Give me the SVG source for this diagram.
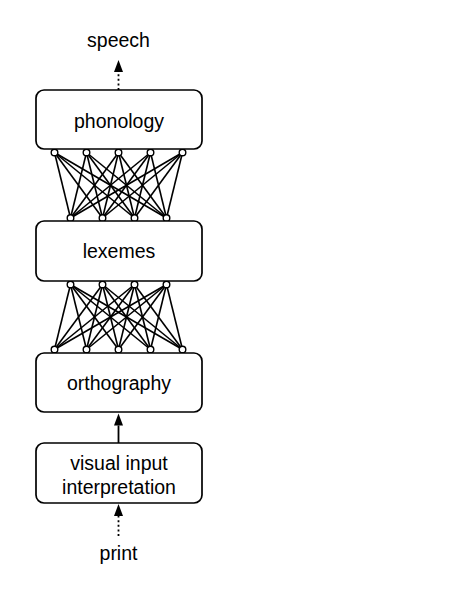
<svg xmlns="http://www.w3.org/2000/svg" width="474" height="602" viewBox="0 0 474 602">
<style>
.box{fill:#fff;stroke:#000;stroke-width:1.7}
.lbl{font-family:"Liberation Sans",Arial,Helvetica,sans-serif;font-size:19.5px;fill:#000;text-anchor:middle}
.ln{stroke:#000;stroke-width:1.6;fill:none}
.dot{stroke:#000;stroke-width:1.8;fill:none;stroke-dasharray:2 2.6}
.arr{stroke:#000;stroke-width:1.8;fill:none}
.nd{fill:#fff;stroke:#000;stroke-width:1.4}
</style>
<defs>
<marker id="ah" markerUnits="userSpaceOnUse" markerWidth="12" markerHeight="9" refX="0" refY="4.5" orient="auto" overflow="visible">
<path d="M0,0 L12,4.5 L0,9 Z" fill="#000"/>
</marker>
</defs>
<rect width="474" height="602" fill="#fff"/>
<g id="connectors">
<line class="dot" x1="118.5" y1="90" x2="118.5" y2="72" marker-end="url(#ah)"/>
<line class="arr" x1="118.5" y1="443" x2="118.5" y2="425.5" marker-end="url(#ah)"/>
<line class="dot" x1="118.5" y1="536" x2="118.5" y2="516" marker-end="url(#ah)"/>
<g id="net1" class="ln">
<line x1="54.5" y1="152.5" x2="70.5" y2="218"/><line x1="54.5" y1="152.5" x2="102.5" y2="218"/><line x1="54.5" y1="152.5" x2="134.5" y2="218"/><line x1="54.5" y1="152.5" x2="166.5" y2="218"/>
<line x1="86.5" y1="152.5" x2="70.5" y2="218"/><line x1="86.5" y1="152.5" x2="102.5" y2="218"/><line x1="86.5" y1="152.5" x2="134.5" y2="218"/><line x1="86.5" y1="152.5" x2="166.5" y2="218"/>
<line x1="118.5" y1="152.5" x2="70.5" y2="218"/><line x1="118.5" y1="152.5" x2="102.5" y2="218"/><line x1="118.5" y1="152.5" x2="134.5" y2="218"/><line x1="118.5" y1="152.5" x2="166.5" y2="218"/>
<line x1="150.5" y1="152.5" x2="70.5" y2="218"/><line x1="150.5" y1="152.5" x2="102.5" y2="218"/><line x1="150.5" y1="152.5" x2="134.5" y2="218"/><line x1="150.5" y1="152.5" x2="166.5" y2="218"/>
<line x1="182.5" y1="152.5" x2="70.5" y2="218"/><line x1="182.5" y1="152.5" x2="102.5" y2="218"/><line x1="182.5" y1="152.5" x2="134.5" y2="218"/><line x1="182.5" y1="152.5" x2="166.5" y2="218"/>
</g>
<g id="net2" class="ln">
<line x1="70.5" y1="284.5" x2="54.5" y2="349.5"/><line x1="70.5" y1="284.5" x2="86.5" y2="349.5"/><line x1="70.5" y1="284.5" x2="118.5" y2="349.5"/><line x1="70.5" y1="284.5" x2="150.5" y2="349.5"/><line x1="70.5" y1="284.5" x2="182.5" y2="349.5"/>
<line x1="102.5" y1="284.5" x2="54.5" y2="349.5"/><line x1="102.5" y1="284.5" x2="86.5" y2="349.5"/><line x1="102.5" y1="284.5" x2="118.5" y2="349.5"/><line x1="102.5" y1="284.5" x2="150.5" y2="349.5"/><line x1="102.5" y1="284.5" x2="182.5" y2="349.5"/>
<line x1="134.5" y1="284.5" x2="54.5" y2="349.5"/><line x1="134.5" y1="284.5" x2="86.5" y2="349.5"/><line x1="134.5" y1="284.5" x2="118.5" y2="349.5"/><line x1="134.5" y1="284.5" x2="150.5" y2="349.5"/><line x1="134.5" y1="284.5" x2="182.5" y2="349.5"/>
<line x1="166.5" y1="284.5" x2="54.5" y2="349.5"/><line x1="166.5" y1="284.5" x2="86.5" y2="349.5"/><line x1="166.5" y1="284.5" x2="118.5" y2="349.5"/><line x1="166.5" y1="284.5" x2="150.5" y2="349.5"/><line x1="166.5" y1="284.5" x2="182.5" y2="349.5"/>
</g>
<g id="units" class="nd">
<circle cx="54.5" cy="152.5" r="3.3"/><circle cx="86.5" cy="152.5" r="3.3"/><circle cx="118.5" cy="152.5" r="3.3"/><circle cx="150.5" cy="152.5" r="3.3"/><circle cx="182.5" cy="152.5" r="3.3"/>
<circle cx="70.5" cy="218" r="3.3"/><circle cx="102.5" cy="218" r="3.3"/><circle cx="134.5" cy="218" r="3.3"/><circle cx="166.5" cy="218" r="3.3"/>
<circle cx="70.5" cy="284.5" r="3.3"/><circle cx="102.5" cy="284.5" r="3.3"/><circle cx="134.5" cy="284.5" r="3.3"/><circle cx="166.5" cy="284.5" r="3.3"/>
<circle cx="54.5" cy="349.5" r="3.3"/><circle cx="86.5" cy="349.5" r="3.3"/><circle cx="118.5" cy="349.5" r="3.3"/><circle cx="150.5" cy="349.5" r="3.3"/><circle cx="182.5" cy="349.5" r="3.3"/>
</g>
</g>
<g id="speech"><text class="lbl" x="118.5" y="47">speech</text></g>
<g id="phonology"><rect class="box" x="36" y="90" width="166" height="59" rx="8"/><text class="lbl" x="119" y="128">phonology</text></g>
<g id="lexemes"><rect class="box" x="36" y="221" width="166" height="60" rx="8"/><text class="lbl" x="119" y="258">lexemes</text></g>
<g id="orthography"><rect class="box" x="36" y="353" width="166" height="59" rx="8"/><text class="lbl" x="119" y="390">orthography</text></g>
<g id="visual"><rect class="box" x="36" y="443" width="166" height="60" rx="8"/><text class="lbl" x="119" y="470">visual input</text><text class="lbl" x="119" y="494">interpretation</text></g>
<g id="print"><text class="lbl" x="118.5" y="560">print</text></g>
</svg>
